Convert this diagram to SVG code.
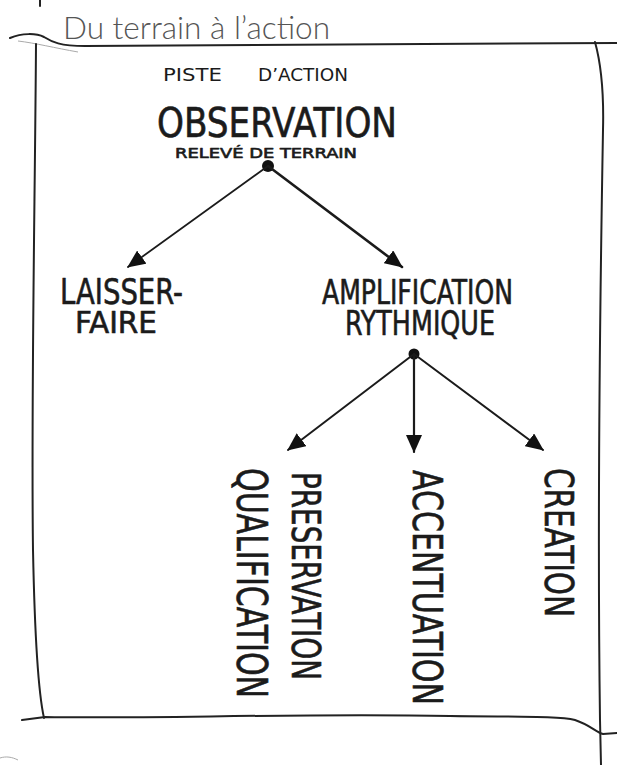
<svg xmlns="http://www.w3.org/2000/svg" width="617" height="765" viewBox="0 0 617 765">
  <style>
    .frame { fill: none; stroke: #222; stroke-width: 2; stroke-linecap: round; stroke-linejoin: round; }
    .faint { fill: none; stroke: #aaa; stroke-width: 1; }
    .hand { font-family: "Liberation Sans Narrow", "DejaVu Sans Condensed", "Liberation Sans", sans-serif; fill: #1b1b1b; stroke: #1b1b1b; stroke-width: 0.6; stroke-linejoin: round; }
    .thin { stroke-width: 0; }
    .title { font-family: "Lato", "Open Sans", "Liberation Sans", sans-serif; font-weight: 300; fill: #555; font-size: 31px; }
    .link { fill: none; stroke: #1b1b1b; stroke-linecap: round; marker-end: url(#head); }
    .dot { fill: #111; }
  </style>
  <defs>
    <marker id="head" viewBox="0 0 18 16" refX="17" refY="8" markerWidth="18" markerHeight="16" markerUnits="userSpaceOnUse" orient="auto">
      <path d="M0,0 L18,8 L0,16 z" fill="#111"/>
    </marker>
  </defs>

  <rect width="617" height="765" fill="#fff"/>

  <!-- title -->
  <text class="title" x="63" y="39" textLength="267" lengthAdjust="spacingAndGlyphs">Du terrain à l’action</text>

  <!-- hand-drawn frame -->
  <g id="frame">
    <path class="frame" d="M40,0 L40,6" stroke-width="3"/>
    <path class="frame" d="M10,38 C22,33 36,33 44,37 C52,42 60,46 85,46 C200,45 350,43 617,43"/>
    <path class="faint" d="M18,41 C35,43 55,48 78,52"/>
    <path class="frame" d="M36,44 C35,200 31,400 33,550 C35,650 40,700 44,718"/>
    <path class="frame" d="M22,720 L45,717 C150,719 300,713 450,716 C520,717 560,716 575,720 C590,725 596,732 603,734 L617,733"/>
    <path class="frame" d="M595,42 C600,60 604,90 603,130 C600,300 597,500 600,720 L601,765"/>
    <path class="faint" d="M0,758 C6,756 12,757 18,760" stroke-width="2"/>
  </g>

  <!-- header -->
  <g id="header">
    <text class="hand thin" x="163" y="81" font-size="17" textLength="59" lengthAdjust="spacingAndGlyphs">PISTE</text>
    <text class="hand thin" x="258" y="81" font-size="17" textLength="90" lengthAdjust="spacingAndGlyphs">D’ACTION</text>
  </g>

  <!-- nodes -->
  <g id="observation">
    <text class="hand" x="157" y="137" font-size="41" stroke-width="0.9" textLength="240" lengthAdjust="spacingAndGlyphs">OBSERVATION</text>
    <text class="hand" x="175" y="158" font-size="14" stroke-width="0.4" textLength="182" lengthAdjust="spacingAndGlyphs">RELEVÉ DE TERRAIN</text>
    <circle class="dot" cx="268" cy="166" r="6"/>
  </g>

  <g id="laisser-faire">
    <text class="hand" x="60" y="304" font-size="35" textLength="123" lengthAdjust="spacingAndGlyphs">LAISSER-</text>
    <text class="hand" x="75" y="333" font-size="31" textLength="82" lengthAdjust="spacingAndGlyphs">FAIRE</text>
  </g>

  <g id="amplification">
    <text class="hand" x="322" y="304" font-size="34" textLength="191" lengthAdjust="spacingAndGlyphs">AMPLIFICATION</text>
    <text class="hand" x="345" y="335" font-size="34" textLength="150" lengthAdjust="spacingAndGlyphs">RYTHMIQUE</text>
    <circle class="dot" cx="414" cy="354" r="5.5"/>
  </g>

  <g id="qualification">
    <text class="hand" transform="translate(237,468) rotate(90)" font-size="43" stroke-width="0.8" textLength="230" lengthAdjust="spacingAndGlyphs">QUALIFICATION</text>
  </g>
  <g id="preservation">
    <text class="hand" transform="translate(292,472) rotate(90)" font-size="39" stroke-width="0.8" textLength="208" lengthAdjust="spacingAndGlyphs">PRESERVATION</text>
  </g>
  <g id="accentuation">
    <text class="hand" transform="translate(413,470) rotate(90)" font-size="41" stroke-width="0.8" textLength="235" lengthAdjust="spacingAndGlyphs">ACCENTUATION</text>
  </g>
  <g id="creation">
    <text class="hand" transform="translate(545,468) rotate(90)" font-size="39" stroke-width="0.6" textLength="149" lengthAdjust="spacingAndGlyphs">CREATION</text>
  </g>

  <!-- connectors -->
  <g id="connectors">
    <path class="link" stroke-width="1.8" d="M268,166 L128,267"/>
    <path class="link" stroke-width="2.6" d="M268,166 L402,267"/>
    <path class="link" stroke-width="2" d="M414,354 L288,450"/>
    <path class="link" stroke-width="2.2" d="M414,354 L414,452"/>
    <path class="link" stroke-width="2" d="M414,354 L543,450"/>
  </g>
</svg>
